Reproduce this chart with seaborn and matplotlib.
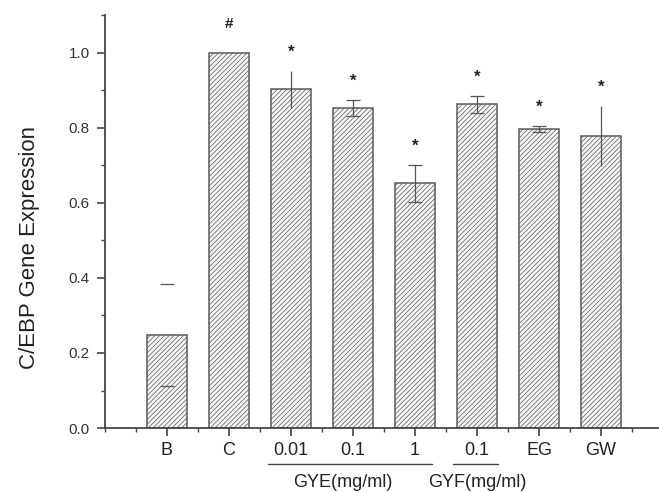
import numpy as np
import pandas as pd
import seaborn as sns
import matplotlib.pyplot as plt
from matplotlib.ticker import MultipleLocator

# data
groups = ['B', 'C', '0.01', '0.1', '1', '0.1 ', 'EG', 'GW']
tick_labels = ['B', 'C', '0.01', '0.1', '1', '0.1', 'EG', 'GW']
expression = [0.248, 1.0, 0.903, 0.853, 0.652, 0.863, 0.797, 0.778]
err = [0.136, 0.0, 0.049, 0.022, 0.050, 0.023, 0.009, 0.081]
has_cap = [True, False, False, True, True, True, True, False]
marks = ['', '#', '*', '*', '*', '*', '*', '*']

sns.set_style('ticks')
plt.rcParams['font.family'] = ['Liberation Sans', 'DejaVu Sans']
plt.rcParams['hatch.linewidth'] = 0.5
plt.rcParams['hatch.color'] = '#b0b0b0'

df = pd.DataFrame({'group': groups, 'value': expression})

fig = plt.figure(figsize=(6.59, 4.92), dpi=100)
ax = fig.add_axes([0.1593, 0.130, 0.8407, 0.839])

sns.barplot(data=df, x='group', y='value', order=groups, color='#f6f6f6',
            width=0.65, edgecolor='#5a5a5a', linewidth=1.1, ax=ax)
for p in ax.patches:
    p.set_hatch('///////')

x = np.arange(len(groups))
y = np.array(expression)
e = np.array(err)
cap = np.array(has_cap)
# bar B: caps only, no visible stem
ax.errorbar(x[:1], y[:1], yerr=e[:1], fmt='none', ecolor='#555555',
            elinewidth=0, capsize=5, capthick=0.9)
sel = cap.copy()
sel[0] = False
ax.errorbar(x[sel], y[sel], yerr=e[sel], fmt='none',
            ecolor='#555555', elinewidth=0.9, capsize=5, capthick=0.9)
ax.errorbar(x[~cap], y[~cap], yerr=e[~cap], fmt='none',
            ecolor='#555555', elinewidth=0.9, capsize=0)

for i, m in enumerate(marks):
    if m == '#':
        ax.text(x[i], y[i] + e[i] + 0.077, m, ha='center', va='center',
                fontsize=11, fontweight='bold', color='#222222')
    elif m:
        ax.text(x[i], y[i] + e[i] + 0.05, m, ha='center', va='center',
                fontsize=12, fontweight='bold', color='#222222')

ax.set_xlim(-1, 7.935)
ax.set_ylim(0, 1.1)
ax.set_xticks(x)
ax.set_xticklabels(tick_labels, fontsize=13, color='#222222')
ax.xaxis.set_minor_locator(MultipleLocator(0.5))
ax.yaxis.set_minor_locator(MultipleLocator(0.1))
ax.set_yticks([0, 0.2, 0.4, 0.6, 0.8, 1.0])
ax.set_yticklabels(['0.0', '0.2', '0.4', '0.6', '0.8', '1.0'], fontsize=11, color='#333333')
ax.tick_params(axis='both', which='major', length=6, width=1.2, color='#444444')
ax.tick_params(axis='both', which='minor', length=3, width=1.0, color='#444444')
ax.tick_params(axis='x', pad=4)
ax.tick_params(axis='y', pad=5)
ax.set_xlabel('')
ax.set_ylabel('C/EBP Gene Expression', fontsize=16, color='#222222')
ax.yaxis.set_label_coords(-0.117, 0.438)
sns.despine(ax=ax, top=True, right=True)
for s in ['left', 'bottom']:
    ax.spines[s].set_linewidth(1.3)
    ax.spines[s].set_color('#444444')

# group annotations under the axis
trans = ax.get_xaxis_transform()
ax.plot([1.63, 4.27], [-0.087, -0.087], transform=trans, color='#444444', lw=1, clip_on=False)
ax.plot([4.61, 5.34], [-0.087, -0.087], transform=trans, color='#444444', lw=1, clip_on=False)
ax.text(2.84, -0.132, 'GYE(mg/ml)', transform=trans, ha='center', va='center', fontsize=13, color='#222222')
ax.text(5.0, -0.132, 'GYF(mg/ml)', transform=trans, ha='center', va='center', fontsize=13, color='#222222')

fig.savefig('out.png', dpi=100)
